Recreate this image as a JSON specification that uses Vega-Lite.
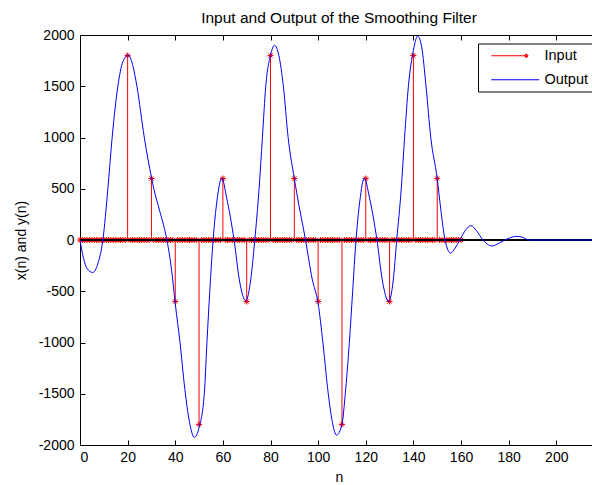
{
  "$schema": "https://vega.github.io/schema/vega-lite/v6.json",
  "width": 512,
  "height": 410,
  "autosize": "none",
  "padding": {"left": 80, "top": 35, "right": 0, "bottom": 40},
  "background": "white",
  "config": {
    "view": {"stroke": null},
    "font": "Liberation Sans",
    "axis": {"grid": false, "domainColor": "#000000", "tickColor": "#000000", "labelColor": "#000000", "titleColor": "#000000", "labelFont": "Liberation Sans", "titleFont": "Liberation Sans", "labelFontSize": 14, "titleFontSize": 14, "titleFontWeight": "normal"},
    "title": {"font": "Liberation Sans", "fontSize": 15.5, "fontWeight": "normal", "color": "#000000"}
  },
  "title": {"text": "Input and Output of the Smoothing Filter", "offset": 2, "dx": 3},
  "datasets": {
    "input": [
      {"n":0,"v":0},{"n":1,"v":0},{"n":2,"v":0},{"n":3,"v":0},{"n":4,"v":0},{"n":5,"v":0},{"n":6,"v":0},{"n":7,"v":0},{"n":8,"v":0},{"n":9,"v":0},
      {"n":10,"v":0},{"n":11,"v":0},{"n":12,"v":0},{"n":13,"v":0},{"n":14,"v":0},{"n":15,"v":0},{"n":16,"v":0},{"n":17,"v":0},{"n":18,"v":0},{"n":19,"v":0},
      {"n":20,"v":1800},{"n":21,"v":0},{"n":22,"v":0},{"n":23,"v":0},{"n":24,"v":0},{"n":25,"v":0},{"n":26,"v":0},{"n":27,"v":0},{"n":28,"v":0},{"n":29,"v":0},
      {"n":30,"v":600},{"n":31,"v":0},{"n":32,"v":0},{"n":33,"v":0},{"n":34,"v":0},{"n":35,"v":0},{"n":36,"v":0},{"n":37,"v":0},{"n":38,"v":0},{"n":39,"v":0},
      {"n":40,"v":-600},{"n":41,"v":0},{"n":42,"v":0},{"n":43,"v":0},{"n":44,"v":0},{"n":45,"v":0},{"n":46,"v":0},{"n":47,"v":0},{"n":48,"v":0},{"n":49,"v":0},
      {"n":50,"v":-1800},{"n":51,"v":0},{"n":52,"v":0},{"n":53,"v":0},{"n":54,"v":0},{"n":55,"v":0},{"n":56,"v":0},{"n":57,"v":0},{"n":58,"v":0},{"n":59,"v":0},
      {"n":60,"v":600},{"n":61,"v":0},{"n":62,"v":0},{"n":63,"v":0},{"n":64,"v":0},{"n":65,"v":0},{"n":66,"v":0},{"n":67,"v":0},{"n":68,"v":0},{"n":69,"v":0},
      {"n":70,"v":-600},{"n":71,"v":0},{"n":72,"v":0},{"n":73,"v":0},{"n":74,"v":0},{"n":75,"v":0},{"n":76,"v":0},{"n":77,"v":0},{"n":78,"v":0},{"n":79,"v":0},
      {"n":80,"v":1800},{"n":81,"v":0},{"n":82,"v":0},{"n":83,"v":0},{"n":84,"v":0},{"n":85,"v":0},{"n":86,"v":0},{"n":87,"v":0},{"n":88,"v":0},{"n":89,"v":0},
      {"n":90,"v":600},{"n":91,"v":0},{"n":92,"v":0},{"n":93,"v":0},{"n":94,"v":0},{"n":95,"v":0},{"n":96,"v":0},{"n":97,"v":0},{"n":98,"v":0},{"n":99,"v":0},
      {"n":100,"v":-600},{"n":101,"v":0},{"n":102,"v":0},{"n":103,"v":0},{"n":104,"v":0},{"n":105,"v":0},{"n":106,"v":0},{"n":107,"v":0},{"n":108,"v":0},{"n":109,"v":0},
      {"n":110,"v":-1800},{"n":111,"v":0},{"n":112,"v":0},{"n":113,"v":0},{"n":114,"v":0},{"n":115,"v":0},{"n":116,"v":0},{"n":117,"v":0},{"n":118,"v":0},{"n":119,"v":0},
      {"n":120,"v":600},{"n":121,"v":0},{"n":122,"v":0},{"n":123,"v":0},{"n":124,"v":0},{"n":125,"v":0},{"n":126,"v":0},{"n":127,"v":0},{"n":128,"v":0},{"n":129,"v":0},
      {"n":130,"v":-600},{"n":131,"v":0},{"n":132,"v":0},{"n":133,"v":0},{"n":134,"v":0},{"n":135,"v":0},{"n":136,"v":0},{"n":137,"v":0},{"n":138,"v":0},{"n":139,"v":0},
      {"n":140,"v":1800},{"n":141,"v":0},{"n":142,"v":0},{"n":143,"v":0},{"n":144,"v":0},{"n":145,"v":0},{"n":146,"v":0},{"n":147,"v":0},{"n":148,"v":0},{"n":149,"v":0},
      {"n":150,"v":600},{"n":151,"v":0},{"n":152,"v":0},{"n":153,"v":0},{"n":154,"v":0},{"n":155,"v":0},{"n":156,"v":0},{"n":157,"v":0},{"n":158,"v":0},{"n":159,"v":0},
      {"n":160,"v":0}
    ],
    "output": [
      {"n":0,"v":0},{"n":1.5,"v":-180},{"n":3,"v":-280},{"n":5.4,"v":-317},{"n":7.5,"v":-230},{"n":9.6,"v":0},
      {"n":11.7,"v":500},{"n":13.5,"v":1000},{"n":15.9,"v":1500},{"n":18,"v":1740},{"n":20.3,"v":1805},{"n":22.3,"v":1690},
      {"n":23.9,"v":1500},{"n":27,"v":1000},{"n":30,"v":610},{"n":31,"v":500},{"n":33.5,"v":280},{"n":36.5,"v":0},
      {"n":38.5,"v":-300},{"n":40,"v":-620},{"n":42,"v":-1000},{"n":44,"v":-1450},{"n":46,"v":-1780},{"n":48,"v":-1925},
      {"n":50,"v":-1830},{"n":52.2,"v":-1500},{"n":53.3,"v":-1000},{"n":54.5,"v":-500},{"n":55.9,"v":0},{"n":57.5,"v":380},
      {"n":59.6,"v":605},{"n":61.5,"v":420},{"n":64.7,"v":0},{"n":67,"v":-400},{"n":69.6,"v":-595},{"n":71.5,"v":-420},
      {"n":73.4,"v":0},{"n":75.2,"v":500},{"n":76.6,"v":1000},{"n":78,"v":1500},{"n":80,"v":1800},{"n":81.7,"v":1900},
      {"n":83.5,"v":1800},{"n":85.4,"v":1500},{"n":87.4,"v":1000},{"n":90,"v":600},{"n":91,"v":460},{"n":94.7,"v":0},
      {"n":97.5,"v":-380},{"n":100,"v":-620},{"n":102,"v":-1000},{"n":104,"v":-1450},{"n":106,"v":-1780},{"n":107.7,"v":-1904},
      {"n":110,"v":-1800},{"n":111.4,"v":-1500},{"n":113.1,"v":-1000},{"n":114.5,"v":-500},{"n":115.9,"v":0},{"n":117.5,"v":380},
      {"n":119.4,"v":605},{"n":121.5,"v":420},{"n":124.7,"v":0},{"n":127,"v":-400},{"n":129.6,"v":-600},{"n":131.5,"v":-400},
      {"n":133,"v":0},{"n":134.9,"v":500},{"n":136.3,"v":1000},{"n":137.9,"v":1500},{"n":140,"v":1850},{"n":141.8,"v":1990},
      {"n":143.5,"v":1880},{"n":145.3,"v":1500},{"n":147.3,"v":1000},{"n":150,"v":600},{"n":151.5,"v":300},{"n":153.3,"v":0},
      {"n":155.6,"v":-128},{"n":157.5,"v":-80},{"n":159.5,"v":0},{"n":162,"v":100},{"n":164.2,"v":140},{"n":166.5,"v":90},
      {"n":169.2,"v":0},{"n":171,"v":-40},{"n":173,"v":-58},{"n":176,"v":-30},{"n":178.5,"v":0},{"n":181,"v":25},
      {"n":183.4,"v":36},{"n":186,"v":25},{"n":188.5,"v":0},{"n":215,"v":0}
    ]
  },
  "resolve": {"axis": {"x": "independent", "y": "independent"}},
  "layer": [
    {
      "data": {"name": "input"},
      "mark": {"type": "rule", "color": "#ff0000", "strokeWidth": 1},
      "encoding": {
        "x": {"field": "n", "type": "quantitative", "scale": {"domain": [0, 215], "nice": false, "zero": false}, "axis": null},
        "y": {"field": "v", "type": "quantitative", "scale": {"domain": [-2000, 2000], "nice": false}, "axis": null},
        "y2": {"datum": 0}
      }
    },
    {
      "data": {"name": "input"},
      "mark": {"type": "point", "shape": "M-1,0H1M0,-1V1M-0.7,-0.7L0.7,0.7M-0.7,0.7L0.7,-0.7", "filled": false, "size": 36, "strokeWidth": 1, "opacity": 1},
      "encoding": {
        "x": {"field": "n", "type": "quantitative", "axis": {"orient": "bottom", "values": [0,20,40,60,80,100,120,140,160,180,200], "tickSize": -5, "labelPadding": 10, "title": "n", "titlePadding": 6, "titleX": 259, "labelExpr": "'' + datum.value"}},
        "y": {"field": "v", "type": "quantitative", "axis": {"orient": "left", "values": [-2000,-1500,-1000,-500,0,500,1000,1500,2000], "tickSize": -5, "labelPadding": 11, "title": "x(n) and y(n)", "titlePadding": 10, "labelExpr": "'' + datum.value"}},
        "color": {
          "datum": "Input",
          "scale": {"domain": ["Input", "Output"], "range": ["#ff0000", "#0000ff"]},
          "legend": {
            "orient": "none", "legendX": 398, "legendY": 8.5, "title": null,
            "strokeColor": "#000000", "fillColor": "#ffffff", "padding": 5, "cornerRadius": 0,
            "labelFont": "Liberation Sans", "labelFontSize": 14.5, "labelColor": "#000000",
            "symbolSize": 64, "symbolOffset": 45, "labelOffset": 2, "rowPadding": 9, "symbolStrokeWidth": 1.2,
            "symbolType": {"expr": "datum.value === 'Input' ? 'M-11,0H-2.25M-2.25,-0.4L-1.85,0L-2.25,0.4L-2.65,0Z' : 'M-11,0H1'"},
            "symbolFillColor": {"expr": "datum.value === 'Input' ? '#ff0000' : 'transparent'"},
            "values": ["Input", "Output"]
          }
        }
      }
    },
    {
      "data": {"name": "input"},
      "mark": {"type": "rule", "color": "#000000", "strokeWidth": 1},
      "encoding": {
        "y": {"datum": 0, "type": "quantitative", "axis": null}
      }
    },
    {
      "data": {"name": "output"},
      "mark": {"type": "line", "interpolate": "monotone", "strokeWidth": 1, "clip": true, "color": "#0000ff"},
      "encoding": {
        "x": {"field": "n", "type": "quantitative", "axis": {"orient": "top", "values": [0,20,40,60,80,100,120,140,160,180,200], "tickSize": -5, "labels": false, "title": null}},
        "y": {"field": "v", "type": "quantitative", "axis": null}
      }
    }
  ]
}
